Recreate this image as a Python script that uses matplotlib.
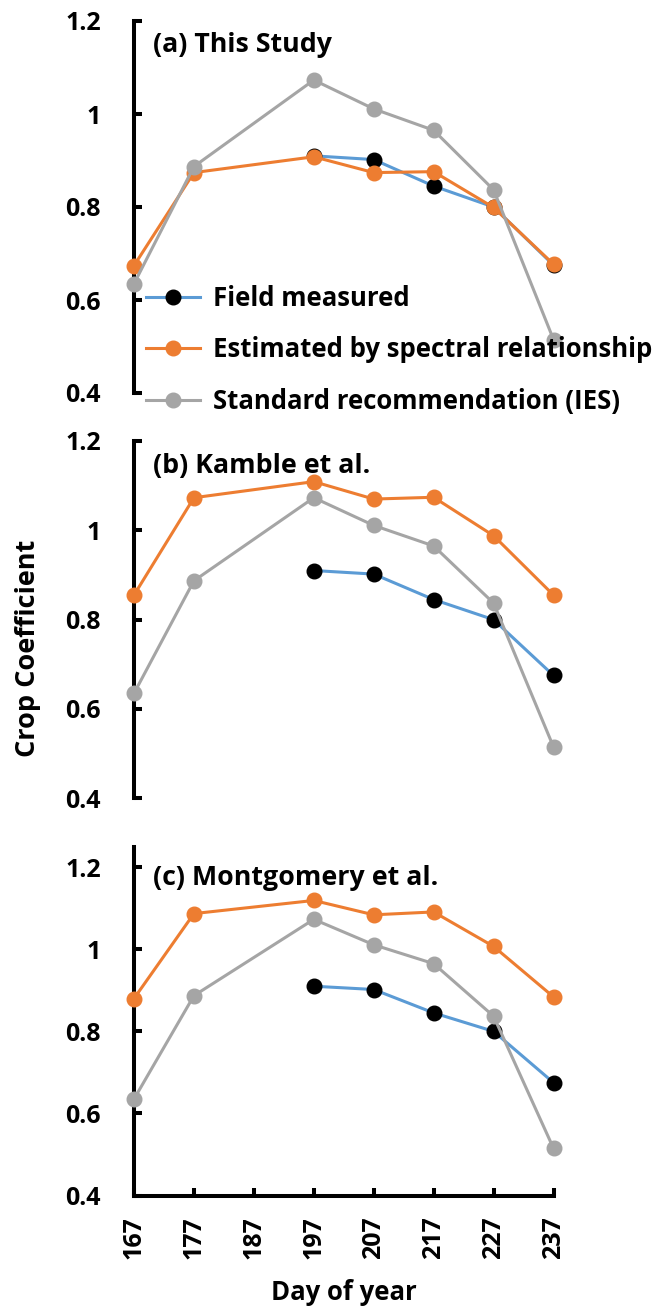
import matplotlib
matplotlib.use("Agg")
import matplotlib.pyplot as plt
from matplotlib.lines import Line2D

plt.rcParams['font.family'] = ['Open Sans', 'DejaVu Sans']
plt.rcParams['font.weight'] = 'bold'

# Day of year of each observation
days = [167, 177, 197, 207, 217, 227, 237]
field_days = [197, 207, 217, 227, 237]

# Field measured crop coefficient (same in every panel)
field_kc = [0.91, 0.902, 0.845, 0.80, 0.675]

# Standard recommendation (IES)
ies_kc = [0.635, 0.887, 1.073, 1.011, 0.965, 0.837, 0.515]

# Estimated by spectral relationship, per panel
est_this_study = [0.674, 0.874, 0.908, 0.874, 0.876, 0.799, 0.677]
est_kamble = [0.855, 1.073, 1.109, 1.070, 1.074, 0.988, 0.855]
est_montgomery = [0.880, 1.087, 1.119, 1.084, 1.091, 1.007, 0.884]

panel_titles = ["(a) This Study", "(b) Kamble et al.", "(c) Montgomery et al."]
series_labels = ["Field measured", "Estimated by spectral relationship",
                 "Standard recommendation (IES)"]

xticks = [167, 177, 187, 197, 207, 217, 227, 237]
yticks = [0.4, 0.6, 0.8, 1.0, 1.2]
ytick_labels = ["0.4", "0.6", "0.8", "1", "1.2"]

BLUE = "#5B9BD5"
ORANGE = "#ED7D31"
GRAY = "#A5A5A5"

W, H = 666, 1311
fig = plt.figure(figsize=(W / 100, H / 100), dpi=100)


def px_axes(left, right, top, bottom):
    return fig.add_axes([left / W, 1 - bottom / H, (right - left) / W, (bottom - top) / H])


ax_a = px_axes(134, 553.5, 21, 393)
ax_b = px_axes(134, 553.5, 441, 798.3)
ax_c = px_axes(134, 553.5, 846.7, 1195.5)

estimates = [est_this_study, est_kamble, est_montgomery]
ylims = [(0.4, 1.2), (0.4, 1.2), (0.4, 1.25)]
title_y = [1.148, 1.143, 1.173]

lw = 2.2
ms = 10.5
for i, (ax, est) in enumerate(zip([ax_a, ax_b, ax_c], estimates)):
    ax.plot(field_days, field_kc, color=BLUE, lw=lw, marker='o', ms=ms,
            mfc='black', mec='black', clip_on=False, zorder=3)
    ax.plot(days, est, color=ORANGE, lw=lw, marker='o', ms=ms,
            mfc=ORANGE, mec=ORANGE, clip_on=False, zorder=4)
    ax.plot(days, ies_kc, color=GRAY, lw=lw, marker='o', ms=ms,
            mfc=GRAY, mec=GRAY, clip_on=False, zorder=5)

    ax.set_xlim(167, 237)
    ax.set_ylim(*ylims[i])
    ax.set_yticks(yticks)
    ax.set_yticklabels(ytick_labels)
    for side in ['top', 'right']:
        ax.spines[side].set_visible(False)
    ax.spines['left'].set_linewidth(2.9)
    ax.spines['bottom'].set_linewidth(2.9)
    ax.tick_params(axis='y', direction='in', length=6, width=2.9, pad=24,
                   labelsize=18)
    ax.text(170.2, title_y[i], panel_titles[i], fontsize=19.3,
            fontweight='bold', ha='left', va='center')
    if i < 2:
        ax.spines['bottom'].set_visible(False)
        ax.set_xticks([])
    else:
        ax.set_xticks(xticks)
        ax.set_xticklabels([str(d) for d in xticks], rotation=90)
        ax.tick_params(axis='x', direction='in', length=6, width=2.9, pad=15,
                       labelsize=18)

handles = [
    Line2D([], [], color=BLUE, lw=lw, marker='o', ms=ms, mfc='black', mec='black'),
    Line2D([], [], color=ORANGE, lw=lw, marker='o', ms=ms, mfc=ORANGE, mec=ORANGE),
    Line2D([], [], color=GRAY, lw=lw, marker='o', ms=ms, mfc=GRAY, mec=GRAY),
]
fig.legend(handles, series_labels, loc='upper left',
           bbox_to_anchor=(146 / W, 1 - 285 / H), frameon=False,
           handlelength=2.1, handletextpad=0.5,
           labelspacing=0.95, borderpad=0, borderaxespad=0,
           prop={'weight': 'bold', 'size': 18.5})

fig.text(28 / W, 1 - 648 / H, "Crop Coefficient", rotation=90, fontsize=19.5,
         fontweight='bold', ha='center', va='center')
fig.text(343.5 / W, 1 - 1293 / H, "Day of year", fontsize=18.5,
         fontweight='bold', ha='center', va='center')

fig.savefig("out.png", dpi=100)
